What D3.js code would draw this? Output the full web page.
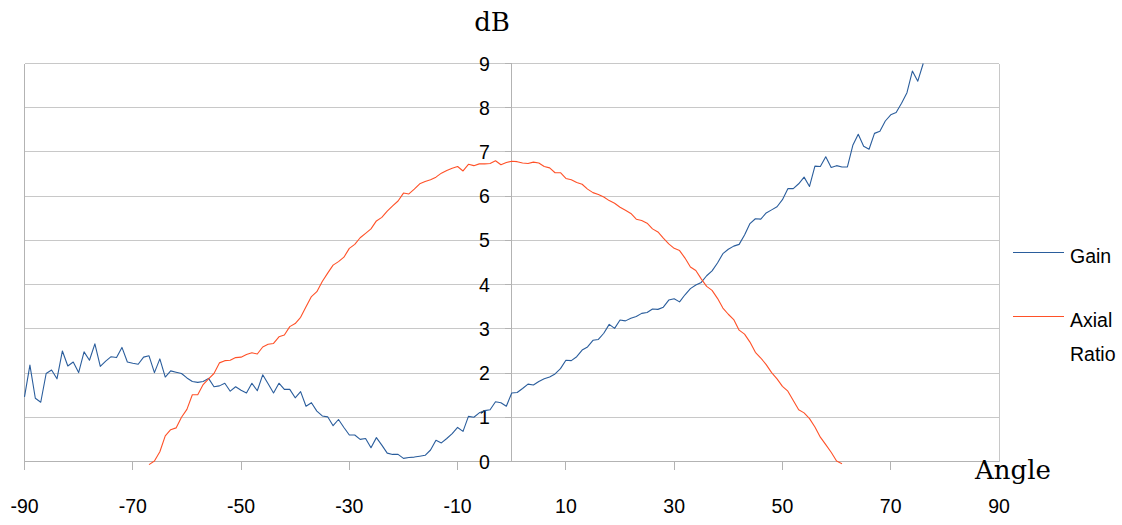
<!DOCTYPE html>
<html>
<head>
<meta charset="utf-8">
<script src="https://cdn.jsdelivr.net/npm/d3@7"></script>
<style>
  html, body { margin: 0; padding: 0; background: #ffffff; }
  svg { display: block; }
  .tick-label { font-family: "Liberation Sans", Arial, sans-serif; font-size: 19.5px; fill: #000; }
  .axis-title { font-family: "DejaVu Serif", serif; font-size: 26px; fill: #000; }
</style>
</head>
<body>
<svg id="chart" width="1122" height="525"></svg>
<script>
// Angle categories (degrees), one sample per degree
const gainAngles = d3.range(-90, 77);
const ratioAngles = d3.range(-67, 62);

// Gain (dB), -90 .. 76 deg
const gainValues = [
  1.46, 2.18, 1.43, 1.34, 1.99, 2.07, 1.87, 2.50, 2.16, 2.25,
  2.01, 2.48, 2.29, 2.66, 2.15, 2.27, 2.37, 2.35, 2.58, 2.25,
  2.22, 2.20, 2.36, 2.39, 2.01, 2.32, 1.91, 2.05, 2.02, 1.99,
  1.89, 1.81, 1.79, 1.81, 1.88, 1.69, 1.71, 1.77, 1.59, 1.69,
  1.61, 1.55, 1.77, 1.60, 1.96, 1.76, 1.55, 1.77, 1.63, 1.63,
  1.44, 1.58, 1.25, 1.33, 1.14, 1.03, 1.01, 0.81, 0.95, 0.77,
  0.60, 0.60, 0.50, 0.52, 0.31, 0.54, 0.37, 0.19, 0.16, 0.16,
  0.07, 0.09, 0.10, 0.12, 0.14, 0.26, 0.48, 0.42, 0.52, 0.63,
  0.77, 0.68, 1.02, 1.00, 1.10, 1.15, 1.17, 1.35, 1.33, 1.25,
  1.55, 1.56, 1.65, 1.75, 1.73, 1.81, 1.87, 1.91, 1.98, 2.10,
  2.29, 2.28, 2.37, 2.52, 2.59, 2.74, 2.76, 2.90, 3.10, 3.01,
  3.20, 3.18, 3.24, 3.28, 3.35, 3.37, 3.45, 3.44, 3.49, 3.65,
  3.68, 3.61, 3.77, 3.91, 3.99, 4.05, 4.20, 4.31, 4.49, 4.70,
  4.80, 4.87, 4.91, 5.12, 5.38, 5.49, 5.48, 5.62, 5.69, 5.76,
  5.92, 6.17, 6.17, 6.28, 6.43, 6.22, 6.68, 6.67, 6.89, 6.65,
  6.69, 6.66, 6.66, 7.15, 7.40, 7.13, 7.06, 7.42, 7.47, 7.70,
  7.84, 7.89, 8.10, 8.34, 8.83, 8.60, 9.00
];

// Axial ratio (dB), -67 .. 61 deg
const ratioValues = [
  -0.07, 0.01, 0.22, 0.58, 0.72, 0.76, 1.00, 1.18, 1.51, 1.51,
  1.74, 1.87, 1.99, 2.23, 2.28, 2.29, 2.35, 2.36, 2.42, 2.46,
  2.43, 2.59, 2.65, 2.67, 2.82, 2.86, 3.05, 3.12, 3.26, 3.50,
  3.73, 3.84, 4.07, 4.26, 4.44, 4.52, 4.62, 4.82, 4.91, 5.06,
  5.16, 5.26, 5.44, 5.52, 5.66, 5.78, 5.89, 6.07, 6.05, 6.16,
  6.28, 6.33, 6.37, 6.43, 6.52, 6.58, 6.63, 6.67, 6.57, 6.72,
  6.69, 6.73, 6.73, 6.74, 6.80, 6.71, 6.76, 6.79, 6.78, 6.75,
  6.74, 6.77, 6.75, 6.67, 6.64, 6.53, 6.53, 6.40, 6.37, 6.31,
  6.27, 6.16, 6.08, 6.04, 5.98, 5.90, 5.84, 5.75, 5.68, 5.61,
  5.48, 5.45, 5.39, 5.26, 5.19, 5.05, 4.92, 4.82, 4.77, 4.60,
  4.40, 4.32, 4.13, 3.96, 3.87, 3.69, 3.47, 3.33, 3.21, 2.97,
  2.88, 2.70, 2.47, 2.34, 2.19, 2.01, 1.87, 1.70, 1.59, 1.38,
  1.17, 1.10, 0.97, 0.78, 0.55, 0.38, 0.21, 0.01, -0.05
];

const xTicks = [-90, -70, -50, -30, -10, 10, 30, 50, 70, 90];
const yTicks = [0, 1, 2, 3, 4, 5, 6, 7, 8, 9];
const seriesNames = ["Gain", ["Axial", "Ratio"]];

const svg = d3.select("#chart");

const x = d3.scaleLinear().domain([-90, 90]).range([24.5, 999]);
const y = d3.scaleLinear().domain([0, 9]).range([461.5, 63.5]);

const gridColor = "#c8c8c8";
const axisColor = "#b3b3b3";

// horizontal grid
const grid = svg.append("g").attr("shape-rendering", "crispEdges");
grid.selectAll("line.h")
  .data(yTicks)
  .join("line")
  .attr("x1", x(-90)).attr("x2", x(90))
  .attr("y1", d => y(d)).attr("y2", d => y(d))
  .attr("stroke", d => d === 0 ? axisColor : gridColor)
  .attr("stroke-width", 1);

// left and right frame
grid.append("line")
  .attr("x1", x(-90)).attr("x2", x(-90))
  .attr("y1", y(9)).attr("y2", y(0) + 8)
  .attr("stroke", axisColor);
grid.append("line")
  .attr("x1", x(90)).attr("x2", x(90))
  .attr("y1", y(9)).attr("y2", y(0))
  .attr("stroke", gridColor);

// x tick marks below the baseline
grid.selectAll("line.xt")
  .data(xTicks.slice(1, -1))
  .join("line")
  .attr("x1", d => x(d)).attr("x2", d => x(d))
  .attr("y1", y(0)).attr("y2", y(0) + 8)
  .attr("stroke", axisColor);

// y axis through 0 deg
grid.append("line")
  .attr("x1", x(0)).attr("x2", x(0))
  .attr("y1", y(9)).attr("y2", y(0))
  .attr("stroke", axisColor);
grid.selectAll("line.yt")
  .data(yTicks)
  .join("line")
  .attr("x1", x(0) - 7).attr("x2", x(0))
  .attr("y1", d => y(d)).attr("y2", d => y(d))
  .attr("stroke", axisColor);

// tick labels
svg.append("g").selectAll("text")
  .data(xTicks)
  .join("text")
  .attr("class", "tick-label")
  .attr("x", d => x(d))
  .attr("y", 513)
  .attr("text-anchor", "middle")
  .text(d => d);

svg.append("g").selectAll("text")
  .data(yTicks)
  .join("text")
  .attr("class", "tick-label")
  .attr("x", x(0) - 22)
  .attr("y", d => y(d))
  .attr("dy", "0.36em")
  .attr("text-anchor", "end")
  .text(d => d);

// axis titles
svg.append("text").attr("class", "axis-title")
  .attr("x", 492).attr("y", 31).attr("text-anchor", "middle").text("dB");
svg.append("text").attr("class", "axis-title")
  .attr("x", 1013).attr("y", 479).attr("text-anchor", "middle").text("Angle");

// series lines
const gainColor = "#2a5d9c";
const ratioColor = "#ff5128";

const line = d3.line()
  .x(d => x(d[0]))
  .y(d => y(d[1]));

svg.append("path")
  .datum(d3.zip(gainAngles, gainValues))
  .attr("fill", "none")
  .attr("stroke", gainColor)
  .attr("stroke-width", 1.1)
  .attr("stroke-linejoin", "round")
  .attr("d", line);

svg.append("path")
  .datum(d3.zip(ratioAngles, ratioValues))
  .attr("fill", "none")
  .attr("stroke", ratioColor)
  .attr("stroke-width", 1.1)
  .attr("stroke-linejoin", "round")
  .attr("d", line);

// legend
const legend = svg.append("g");
legend.append("line")
  .attr("x1", 1013).attr("x2", 1064).attr("y1", 252.5).attr("y2", 252.5)
  .attr("stroke", gainColor).attr("stroke-width", 1.1);
legend.append("text").attr("class", "tick-label")
  .attr("x", 1070).attr("y", 263).text(seriesNames[0]);
legend.append("line")
  .attr("x1", 1013).attr("x2", 1064).attr("y1", 316.5).attr("y2", 316.5)
  .attr("stroke", ratioColor).attr("stroke-width", 1.1);
legend.append("text").attr("class", "tick-label")
  .attr("x", 1070).attr("y", 327).text(seriesNames[1][0]);
legend.append("text").attr("class", "tick-label")
  .attr("x", 1070).attr("y", 361).text(seriesNames[1][1]);
</script>
</body>
</html>
